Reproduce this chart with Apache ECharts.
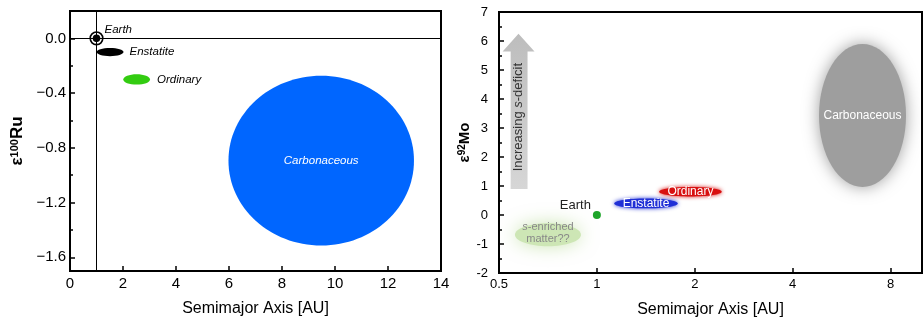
<!DOCTYPE html>
<html><head><meta charset="utf-8">
<script src="https://cdn.jsdelivr.net/npm/echarts@6/dist/echarts.min.js"></script>
<style>html,body{margin:0;padding:0;background:#fff}#c{width:924px;height:324px}</style>
</head><body><div id="c"></div>
<script>
// ---------- Left panel: ε100Ru vs semimajor axis (linear) ----------
const leftYLabels = [-1.6, -1.2, -0.8, -0.4, 0.0];
const leftYMinor = [-1.4, -1.0, -0.6, -0.2];
const leftNames = ['Enstatite', 'Ordinary', 'Carbonaceous'];
const leftXMin = [1.0, 2.01, 5.98];
const leftXMax = [2.02, 3.02, 12.98];
const leftYLow = [-0.13, -0.338, -1.513];
const leftYHigh = [-0.07, -0.262, -0.274];
const earthAU = 1;
const earthRu = 0;

// ---------- Right panel: ε92Mo vs semimajor axis (log2) ----------
const rightXTicks = [0.5, 1, 2, 4, 8];
const rightNames = ['s-enriched matter??', 'Enstatite', 'Ordinary', 'Carbonaceous'];
const rightXMin = [0.539, 1.117, 1.536, 4.66];
const rightXMax = [0.928, 1.795, 2.45, 9.24];
const rightYLow = [-1.23, 0.21, 0.62, 0.78];
const rightYHigh = [-0.13, 0.59, 0.98, 6.08];
const earthMo = 0;
const arrowBodyX = [0.543, 0.612];
const arrowHeadX = [0.513, 0.643];
const arrowCenterX = 0.574;
const arrowY = [0.9, 5.64, 6.25]; // base, head base, tip

const FONT = '"Liberation Sans", Arial, Helvetica, sans-serif';

const leftStyle = {
  'Enstatite':    {fill: '#000000', dx: 6},
  'Ordinary':     {fill: '#33cc11', dx: 7},
  'Carbonaceous': {fill: '#0066ff', inside: true}
};
const rightStyle = {
  's-enriched matter??': {fill: '#cde6b5', shrinkX: 0.86, shrinkY: 0.72, blur: 18, text: '{i|s}-enriched\nmatter??', color: '#888888', size: 11},
  'Enstatite':    {fill: '#1f2fd6', shrinkX: 0.95, shrinkY: 0.9, blur: 4, text: 'Enstatite', color: '#ffffff', size: 12},
  'Ordinary':     {fill: '#d81010', shrinkX: 0.95, shrinkY: 0.9, blur: 4, text: 'Ordinary', color: '#ffffff', size: 12},
  'Carbonaceous': {fill: '#9e9e9e', shrinkX: 0.9, shrinkY: 0.93, blur: 16, text: 'Carbonaceous', color: '#ffffff', size: 12}
};

function boxOf(api) {
  const p1 = api.coord([api.value(0), api.value(2)]);
  const p2 = api.coord([api.value(1), api.value(3)]);
  return {
    cx: (p1[0] + p2[0]) / 2, cy: (p1[1] + p2[1]) / 2,
    rx: Math.abs(p2[0] - p1[0]) / 2, ry: Math.abs(p2[1] - p1[1]) / 2
  };
}

const leftData = leftNames.map((n, i) => [leftXMin[i], leftXMax[i], leftYLow[i], leftYHigh[i]]);
const rightData = rightNames.map((n, i) => [rightXMin[i], rightXMax[i], rightYLow[i], rightYHigh[i]]);

const axisLineStyle = {color: '#000', width: 2};
const tickLineStyle = {color: '#000', width: 1.5};

const option = {
  animation: false,
  backgroundColor: '#fff',
  textStyle: {fontFamily: FONT},
  grid: [
    {left: 70, top: 11, width: 371, height: 260, show: true, borderColor: '#000', borderWidth: 2, backgroundColor: 'transparent'},
    {left: 499, top: 12, width: 423, height: 261, show: true, borderColor: '#000', borderWidth: 2, backgroundColor: 'transparent'}
  ],
  xAxis: [
    {
      gridIndex: 0, type: 'value', min: 0, max: 14, interval: 2, position: 'bottom',
      axisLine: {onZero: false, lineStyle: axisLineStyle},
      axisTick: {inside: true, length: 5, lineStyle: tickLineStyle},
      axisLabel: {color: '#000', fontSize: 15, margin: 5, fontFamily: FONT},
      splitLine: {show: false},
      name: 'Semimajor Axis [AU]', nameLocation: 'middle', nameGap: 30,
      nameTextStyle: {fontSize: 16, color: '#000', fontFamily: FONT}
    },
    {
      gridIndex: 1, type: 'log', logBase: 2, min: 0.5, max: 10, position: 'bottom',
      axisLine: {onZero: false, lineStyle: axisLineStyle},
      axisTick: {inside: true, length: 5, lineStyle: tickLineStyle, customValues: rightXTicks},
      axisLabel: {color: '#000', fontSize: 13, margin: 5, fontFamily: FONT, customValues: rightXTicks,
        formatter: v => String(Math.round(v * 10) / 10)},
      minorTick: {show: false},
      splitLine: {show: false},
      name: 'Semimajor Axis [AU]', nameLocation: 'middle', nameGap: 29,
      nameTextStyle: {fontSize: 16, color: '#000', fontFamily: FONT}
    }
  ],
  yAxis: [
    {
      gridIndex: 0, type: 'value', min: -1.7, max: 0.2, position: 'left',
      axisLine: {onZero: false, lineStyle: axisLineStyle},
      axisTick: {inside: true, length: 5, lineStyle: tickLineStyle, customValues: leftYLabels},
      axisLabel: {color: '#000', fontSize: 15, margin: 4, fontFamily: FONT, customValues: leftYLabels,
        formatter: v => (v < -1e-9 ? '\u2212' : '') + Math.abs(v).toFixed(1)},
      splitLine: {show: false},
      name: '{e|\u03b5}{s|100}{n|Ru}', nameLocation: 'middle', nameGap: 44,
      nameTextStyle: {
        color: '#000', fontFamily: FONT,
        rich: {
          e: {fontSize: 17, fontWeight: 'bold', fontFamily: FONT},
          s: {fontSize: 11, fontWeight: 'bold', verticalAlign: 'top', fontFamily: FONT, padding: [0, 0, 6, 0]},
          n: {fontSize: 17, fontWeight: 'bold', fontFamily: FONT}
        }
      }
    },
    {
      gridIndex: 0, type: 'value', min: -1.7, max: 0.2, position: 'left',
      axisLine: {show: false, onZero: false},
      axisTick: {inside: true, length: 3, lineStyle: tickLineStyle, customValues: leftYMinor},
      axisLabel: {show: false},
      splitLine: {show: false}
    },
    {
      gridIndex: 1, type: 'value', min: -2, max: 7, interval: 1, position: 'left',
      axisLine: {onZero: false, lineStyle: axisLineStyle},
      axisTick: {inside: true, length: 5, lineStyle: tickLineStyle},
      minorTick: {show: true, splitNumber: 2, length: 3, lineStyle: tickLineStyle},
      axisLabel: {color: '#000', fontSize: 13, margin: 11, fontFamily: FONT},
      splitLine: {show: false},
      name: '{e|\u03b5}{s|92}{n|Mo}', nameLocation: 'middle', nameGap: 23,
      nameTextStyle: {
        color: '#000', fontFamily: FONT,
        rich: {
          e: {fontSize: 15, fontWeight: 'bold', fontFamily: FONT},
          s: {fontSize: 10, fontWeight: 'bold', verticalAlign: 'top', fontFamily: FONT, padding: [0, 0, 5, 0]},
          n: {fontSize: 15, fontWeight: 'bold', fontFamily: FONT}
        }
      }
    }
  ],
  series: [
    // Left reference lines through Earth
    {
      type: 'line', xAxisIndex: 0, yAxisIndex: 0, data: [[earthAU, earthRu]],
      showSymbol: false, symbol: 'none', lineStyle: {width: 0}, silent: true, z: 1,
      markLine: {
        silent: true, symbol: ['none', 'none'], label: {show: false},
        lineStyle: {color: '#000', width: 1, type: 'solid'},
        animation: false,
        data: [{xAxis: earthAU}, {yAxis: earthRu}]
      }
    },
    // Left ellipses
    {
      type: 'custom', xAxisIndex: 0, yAxisIndex: 0, data: leftData, z: 3,
      renderItem: function (params, api) {
        const b = boxOf(api);
        const name = leftNames[params.dataIndex];
        const st = leftStyle[name];
        const children = [{
          type: 'ellipse', shape: {cx: b.cx, cy: b.cy, rx: b.rx, ry: b.ry},
          style: {fill: st.fill}
        }];
        if (st.inside) {
          children.push({type: 'text', style: {text: name, x: b.cx, y: b.cy, fill: '#fff',
            font: 'italic 11.5px ' + FONT, align: 'center', verticalAlign: 'middle', textAlign: 'center', textVerticalAlign: 'middle'}});
        } else {
          children.push({type: 'text', style: {text: name, x: b.cx + b.rx + st.dx, y: b.cy, fill: '#000',
            font: 'italic 11.5px ' + FONT, align: 'left', verticalAlign: 'middle', textAlign: 'left', textVerticalAlign: 'middle'}});
        }
        return {type: 'group', children: children};
      }
    },
    // Left Earth marker
    {
      type: 'custom', xAxisIndex: 0, yAxisIndex: 0, data: [[earthAU, earthRu]], z: 4,
      renderItem: function (params, api) {
        const p = api.coord([api.value(0), api.value(1)]);
        return {type: 'group', children: [
          {type: 'circle', shape: {cx: p[0], cy: p[1], r: 6.3}, style: {fill: '#fff', stroke: '#000', lineWidth: 1.6}},
          {type: 'circle', shape: {cx: p[0], cy: p[1], r: 3.8}, style: {fill: '#000'}},
          {type: 'text', style: {text: 'Earth', x: p[0] + 8, y: p[1] - 9, fill: '#000',
            font: 'italic 11.5px ' + FONT, align: 'left', verticalAlign: 'middle', textAlign: 'left', textVerticalAlign: 'middle'}}
        ]};
      }
    },
    // Right blurred regions
    {
      type: 'custom', xAxisIndex: 1, yAxisIndex: 2, data: rightData, z: 3,
      renderItem: function (params, api) {
        const b = boxOf(api);
        const name = rightNames[params.dataIndex];
        const st = rightStyle[name];
        return {type: 'group', children: [
          {type: 'ellipse', shape: {cx: b.cx, cy: b.cy, rx: b.rx * st.shrinkX, ry: b.ry * st.shrinkY},
            style: {fill: st.fill, shadowBlur: st.blur, shadowColor: st.fill}},
          {type: 'text', style: {text: st.text, x: b.cx, y: b.cy - (st.text.indexOf('\n') >= 0 ? 2 : 0), fill: st.color,
            font: st.size + 'px ' + FONT, lineHeight: st.size + 0.5,
            align: 'center', verticalAlign: 'middle', textAlign: 'center', textVerticalAlign: 'middle',
            rich: {i: {fontStyle: 'italic', fill: st.color, fontSize: st.size, fontFamily: FONT}}}}
        ]};
      }
    },
    // Right arrow
    {
      type: 'custom', xAxisIndex: 1, yAxisIndex: 2, data: [[arrowCenterX, arrowY[0]]], z: 2,
      renderItem: function (params, api) {
        const bl = api.coord([arrowBodyX[0], arrowY[0]]);
        const br = api.coord([arrowBodyX[1], arrowY[0]]);
        const hbl = api.coord([arrowBodyX[0], arrowY[1]]);
        const hbr = api.coord([arrowBodyX[1], arrowY[1]]);
        const hl = api.coord([arrowHeadX[0], arrowY[1]]);
        const hr = api.coord([arrowHeadX[1], arrowY[1]]);
        const tip = api.coord([arrowCenterX, arrowY[2]]);
        const cx = api.coord([arrowCenterX, arrowY[0]])[0];
        const midY = (bl[1] + hbl[1]) / 2 - 3;
        return {type: 'group', children: [
          {type: 'polygon', shape: {points: [bl, hbl, hl, tip, hr, hbr, br]},
            style: {fill: new echarts.graphic.LinearGradient(0, 0, 0, 1, [
              {offset: 0, color: '#bdbdbd'}, {offset: 1, color: '#d6d6d6'}])}},
          {type: 'text', x: cx, y: midY, rotation: Math.PI / 2,
            style: {text: 'Increasing {i|s}-deficit', x: 0, y: 0, fill: '#333',
              font: '13px ' + FONT, align: 'center', verticalAlign: 'middle', textAlign: 'center', textVerticalAlign: 'middle',
              rich: {i: {fontStyle: 'italic', fill: '#333', fontSize: 13, fontFamily: FONT}}}}
        ]};
      }
    },
    // Right Earth
    {
      type: 'custom', xAxisIndex: 1, yAxisIndex: 2, data: [[earthAU, earthMo]], z: 4,
      renderItem: function (params, api) {
        const p = api.coord([api.value(0), api.value(1)]);
        return {type: 'group', children: [
          {type: 'circle', shape: {cx: p[0], cy: p[1], r: 4}, style: {fill: '#1ea52a'}},
          {type: 'text', style: {text: 'Earth', x: p[0] - 6, y: p[1] - 10, fill: '#222',
            font: '13px ' + FONT, align: 'right', verticalAlign: 'middle', textAlign: 'right', textVerticalAlign: 'middle'}}
        ]};
      }
    }
  ]
};

const chart = echarts.init(document.getElementById('c'), null, {renderer: 'canvas'});
chart.setOption(option);
</script>
</body></html>
